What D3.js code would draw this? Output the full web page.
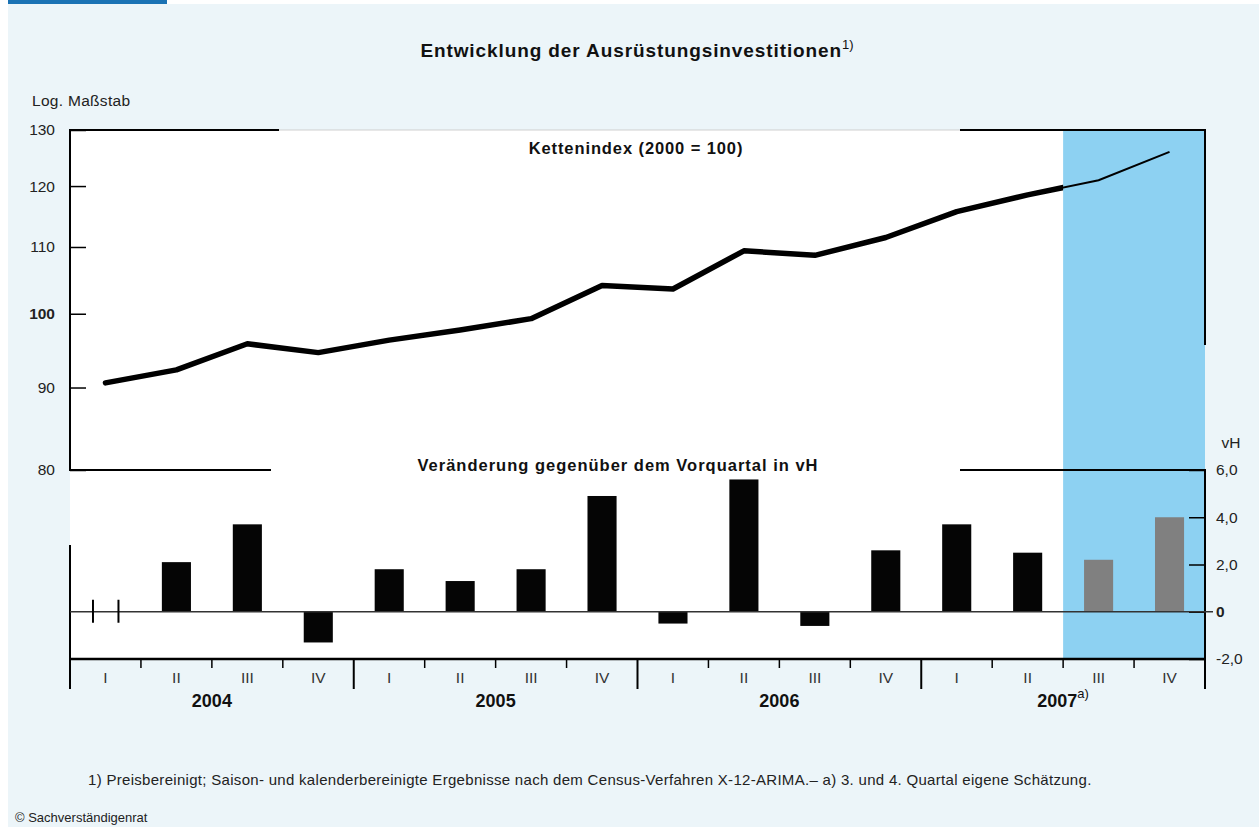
<!DOCTYPE html>
<html>
<head>
<meta charset="utf-8">
<script src="https://cdn.jsdelivr.net/npm/d3@7"></script>
<style>
  body { margin: 0; background: #fff; }
  svg { font-family: "Liberation Sans", Arial, sans-serif; }
  .tick text { fill: #222; }
</style>
</head>
<body>
<svg id="chart" width="1259" height="827"></svg>
<script>
// quarters 2004 I .. 2007 IV
const years = ["2004", "2005", "2006", "2007"];
const quarterNames = ["I", "II", "III", "IV"];
const quarters = [];
years.forEach(y => quarterNames.forEach(q => quarters.push(y + "-" + q)));

// Kettenindex (2000 = 100), log scale
const indexValues = [90.6, 92.3, 95.8, 94.6, 96.3, 97.7, 99.3, 104.1,
                     103.6, 109.4, 108.7, 111.5, 115.7, 118.5, 121.0, 126.0];

// change vs previous quarter in vH (null = not shown)
const changeValues = [null, 2.1, 3.7, -1.3, 1.8, 1.3, 1.8, 4.9,
                      -0.5, 5.6, -0.6, 2.6, 3.7, 2.5, 2.2, 4.0];

// last two quarters are estimates
const estimated = ["2007-III", "2007-IV"];

const leftTicks = [80, 90, 100, 110, 120, 130];
const rightTicks = [-2, 0, 2, 4, 6];

const svg = d3.select("#chart");

const pLeft = 70, pRight = 1205;
const pTop = 130, pMid = 470, pBottom = 659;

// background panel
svg.append("rect").attr("x", 8).attr("y", 4).attr("width", 1251).attr("height", 823)
  .attr("fill", "#ecf5f9");
svg.append("rect").attr("x", 8).attr("y", 0).attr("width", 159).attr("height", 4)
  .attr("fill", "#1a72b4");

// plot area
svg.append("rect").attr("x", pLeft).attr("y", pTop)
  .attr("width", pRight - pLeft).attr("height", pBottom - pTop)
  .attr("fill", "#fff");

const x = d3.scaleBand().domain(quarters).range([pLeft, pRight]).padding(0);
const xc = d => x(d) + x.bandwidth() / 2;

const yLine = d3.scaleLog().domain([80, 130]).range([pMid, pTop]);
const yBar = d3.scaleLinear().domain([-2, 6]).range([pBottom, pMid]);

// shaded estimate area
svg.append("rect")
  .attr("x", x(estimated[0])).attr("y", pTop)
  .attr("width", pRight - x(estimated[0])).attr("height", pBottom - pTop)
  .attr("fill", "#8dd1f2");

// frame lines
function hline(x1, x2, y, w, c) {
  svg.append("line").attr("x1", x1).attr("x2", x2).attr("y1", y).attr("y2", y)
    .attr("stroke", c || "#000").attr("stroke-width", w);
}
function vline(xv, y1, y2, w, c) {
  svg.append("line").attr("x1", xv).attr("x2", xv).attr("y1", y1).attr("y2", y2)
    .attr("stroke", c || "#000").attr("stroke-width", w);
}
hline(279, 960, pTop, 1, "#cfcfcf");
hline(pLeft - 1, 279, pTop, 2);
hline(960, pRight + 1, pTop, 2);
hline(pLeft - 1, 271, pMid, 2);
hline(960, pRight + 1, pMid, 2);
vline(pLeft, pTop, pMid, 2);
vline(pLeft, 545, pBottom, 2);
vline(pRight, pTop, 345, 2);
vline(pRight, pMid, pBottom, 2);

// left axis (index)
const leftAxis = svg.append("g")
  .attr("transform", "translate(" + pLeft + ",0)")
  .call(d3.axisLeft(yLine).tickValues(leftTicks).tickFormat(d3.format("d"))
    .tickSize(-16).tickPadding(15));
leftAxis.select(".domain").remove();
leftAxis.selectAll(".tick line").attr("stroke-width", 1.5);
leftAxis.selectAll(".tick text").style("font-size", "15.5px")
  .style("font-weight", d => d === 100 ? "bold" : "normal");

// right axis (vH)
const fmt = d => d === 0 ? "0" : (d < 0 ? "-" : "") + Math.abs(d).toFixed(1).replace(".", ",");
const rightAxis = svg.append("g")
  .attr("transform", "translate(" + pRight + ",0)")
  .call(d3.axisRight(yBar).tickValues(rightTicks).tickFormat(fmt)
    .tickSize(-16).tickPadding(11));
rightAxis.select(".domain").remove();
rightAxis.selectAll(".tick line").attr("stroke-width", 1.5);
rightAxis.selectAll(".tick text").style("font-size", "15.5px")
  .style("font-weight", d => d === 0 ? "bold" : "normal");

// bars
const barW = x.bandwidth() * 0.41;
const barData = quarters.map((q, i) => ({ q: q, v: changeValues[i] })).filter(d => d.v !== null);
svg.append("g").selectAll("rect")
  .data(barData)
  .enter()
  .append("rect")
  .attr("x", d => xc(d.q) - barW / 2)
  .attr("y", d => yBar(Math.max(0, d.v)))
  .attr("width", barW)
  .attr("height", d => Math.abs(yBar(d.v) - yBar(0)))
  .attr("fill", d => estimated.includes(d.q) ? "#808080" : "#050505");

// zero line
hline(pLeft, pRight + 8, yBar(0), 1.5, "#333");

// "not available" marks for 2004 I
[-12.5, 13].forEach(off => {
  vline(xc(quarters[0]) + off, yBar(0) - 12, yBar(0) + 11, 2);
});

// index line: thick for actual, thin for estimate
const pts = quarters.map((q, i) => [xc(q), yLine(indexValues[i])]);
const line = d3.line();
svg.append("clipPath").attr("id", "clipActual")
  .append("rect").attr("x", pLeft).attr("y", pTop)
  .attr("width", x(estimated[0]) - pLeft).attr("height", pMid - pTop);
svg.append("path").attr("d", line(pts.slice(12)))
  .attr("fill", "none").attr("stroke", "#000").attr("stroke-width", 2);
svg.append("path").attr("d", line(pts))
  .attr("clip-path", "url(#clipActual)")
  .attr("fill", "none").attr("stroke", "#000").attr("stroke-width", 5.5)
  .attr("stroke-linejoin", "round").attr("stroke-linecap", "round");

// bottom axis
hline(pLeft - 1, pRight + 1, pBottom, 2.5);
const bounds = quarters.map(q => x(q)).concat([pRight]);
bounds.forEach((b, i) => {
  const isYear = i % 4 === 0;
  vline(b, pBottom, pBottom + (isYear ? 30 : 9), isYear ? 2 : 1.5);
});
svg.append("g").selectAll("text")
  .data(quarters)
  .enter()
  .append("text")
  .attr("x", d => xc(d))
  .attr("y", 683)
  .attr("text-anchor", "middle")
  .style("font-size", "15.5px")
  .attr("fill", "#333")
  .text(d => d.split("-")[1]);

years.forEach(yr => {
  const x0 = x(yr + "-I"), x1 = x(yr + "-IV") + x.bandwidth();
  const t = svg.append("text")
    .attr("x", (x0 + x1) / 2).attr("y", 707)
    .attr("text-anchor", "middle")
    .style("font-size", "18px").style("font-weight", "bold").attr("fill", "#111")
    .text(yr);
  if (yr === "2007") {
    t.append("tspan").attr("dy", -9).style("font-size", "13px").style("font-weight", "normal").text("a)");
  }
});

// texts
svg.append("text").attr("x", 637).attr("y", 57).attr("text-anchor", "middle")
  .style("font-size", "19px").style("font-weight", "bold").style("letter-spacing", "0.9px")
  .attr("fill", "#111")
  .text("Entwicklung der Ausrüstungsinvestitionen")
  .append("tspan").attr("dy", -8).style("font-size", "13px").style("font-weight", "normal")
  .style("letter-spacing", "0px").text("1)");

svg.append("text").attr("x", 32).attr("y", 106)
  .style("font-size", "15.5px").style("letter-spacing", "0.3px")
  .attr("fill", "#222").text("Log. Maßstab");

svg.append("text").attr("x", 636).attr("y", 154).attr("text-anchor", "middle")
  .style("font-size", "16.5px").style("font-weight", "bold").style("letter-spacing", "0.9px")
  .attr("fill", "#111")
  .text("Kettenindex (2000 = 100)");

svg.append("text").attr("x", 618).attr("y", 471).attr("text-anchor", "middle")
  .style("font-size", "16.5px").style("font-weight", "bold").style("letter-spacing", "1px")
  .attr("fill", "#111")
  .text("Veränderung gegenüber dem Vorquartal in vH");

svg.append("text").attr("x", 1231).attr("y", 448).attr("text-anchor", "middle")
  .style("font-size", "15.5px").attr("fill", "#222").text("vH");

svg.append("text").attr("x", 88).attr("y", 785)
  .style("font-size", "15px").style("letter-spacing", "0.3px").attr("fill", "#222")
  .text("1) Preisbereinigt; Saison- und kalenderbereinigte Ergebnisse nach dem Census-Verfahren X-12-ARIMA.– a) 3. und 4. Quartal eigene Schätzung.");

svg.append("text").attr("x", 15).attr("y", 822)
  .style("font-size", "13px").attr("fill", "#222").text("© Sachverständigenrat");
</script>
</body>
</html>
